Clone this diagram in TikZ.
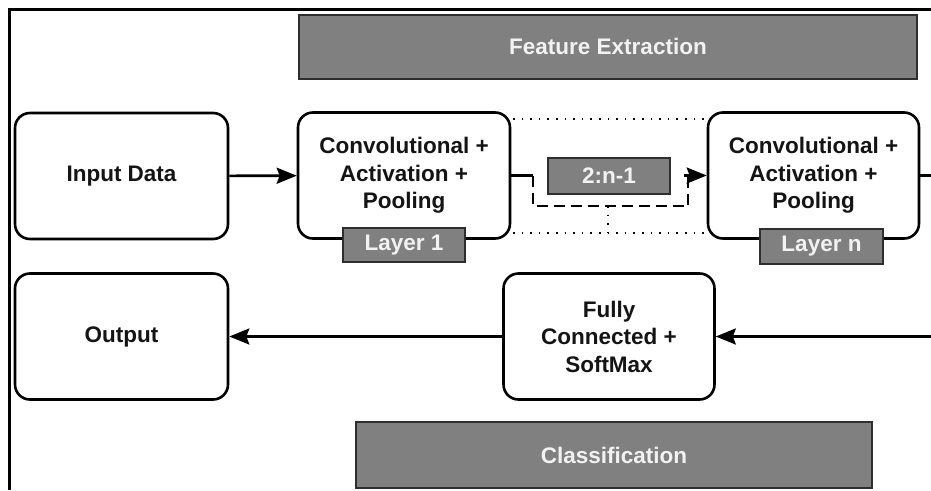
\documentclass[tikz,border=0pt]{standalone}
\usepackage{fontspec}
\setmainfont{Liberation Sans}
\usetikzlibrary{arrows.meta}
\definecolor{gfill}{HTML}{808080}
\definecolor{gline}{HTML}{2E2E2E}
\definecolor{gtext}{HTML}{F2F2F2}
\definecolor{btext}{HTML}{141414}
\tikzset{
  rbox/.style={draw=black, line width=2.6pt, rounded corners=15pt, fill=white,
    minimum width=#1, minimum height=126pt, inner sep=0pt, align=center,
    text=btext, font=\fontsize{22.5}{27.5}\selectfont\bfseries},
  gbox/.style={draw=gline, line width=2pt, fill=gfill, inner sep=0pt,
    text=gtext, font=\fontsize{22.5}{27}\selectfont\bfseries},
  arr/.style={line width=2.6pt, -{Stealth[length=20pt,width=16pt,inset=3pt]}},
  dotl/.style={line width=1.6pt, dotted, dash pattern=on 1.6pt off 7pt},
  dashl/.style={line width=2.6pt, dash pattern=on 11pt off 6pt}
}
\begin{document}
\begin{tikzpicture}[x=1pt,y=-1pt]
\useasboundingbox (0,0) rectangle (931,490);
% frame
\draw[line width=3pt] (9,490) -- (9,9) -- (931,9);
% headers
\node[gbox, minimum width=618pt, minimum height=64pt] (fe) at (608,46.5) {Feature Extraction};
\node[gbox, minimum width=516pt, minimum height=66pt] (cl) at (614,455) {Classification};
% dotted group
\coordinate (dtl) at (513,119);
\coordinate (dtr) at (705,119);
\coordinate (dbl) at (513,233);
\coordinate (dbr) at (705,233);
\draw[dotl] (dtl) -- (dtr);
\draw[dotl] (dbl) -- (dbr);
% main boxes
\node[rbox=213pt] (in) at (121.5,176) {Input Data};
\node[rbox=212pt] (c1) at (404,175.5) {Convolutional +\\Activation +\\Pooling};
\node[rbox=211pt] (cn) at (813.5,175.5) {Convolutional +\\Activation +\\Pooling};
\node[rbox=213pt] (out) at (121.5,336.5) {Output};
\node[rbox=211pt] (fc) at (609,336.5) {Fully\\Connected +\\SoftMax};
% layer tags
\node[gbox, minimum width=122pt, minimum height=34pt] (l1) at (404,245) {Layer 1};
\node[gbox, minimum width=123pt, minimum height=35pt] (ln) at (821.5,246) {Layer n};
\node[gbox, minimum width=122pt, minimum height=36pt] (mid) at (609,176) {2:n-1};
% connectors
\coordinate (rt) at (931,175.5);
\coordinate (rb) at (931,336.5);
\coordinate (d1) at (533,175.5);
\coordinate (d2) at (533,206);
\coordinate (d3) at (688,206);
\coordinate (d4) at (688,175.5);
\coordinate (d5) at (684,175.5);
\coordinate (dm) at (608,206);
\draw[arr] (in) -- (c1);
\draw[line width=2.6pt] (c1.east) -- (d1);
\draw[dashl] (d1) -- (d2) -- (d3) -- (d4);
\draw[arr] (d5) -- (cn.west);
\draw[dotl] (dm) -- (608,233);
\draw[line width=2.6pt] (cn.east) -- (rt);
\draw[arr] (rb) -- (fc.east);
\draw[arr] (fc.west) -- (out.east);
\end{tikzpicture}
\end{document}
